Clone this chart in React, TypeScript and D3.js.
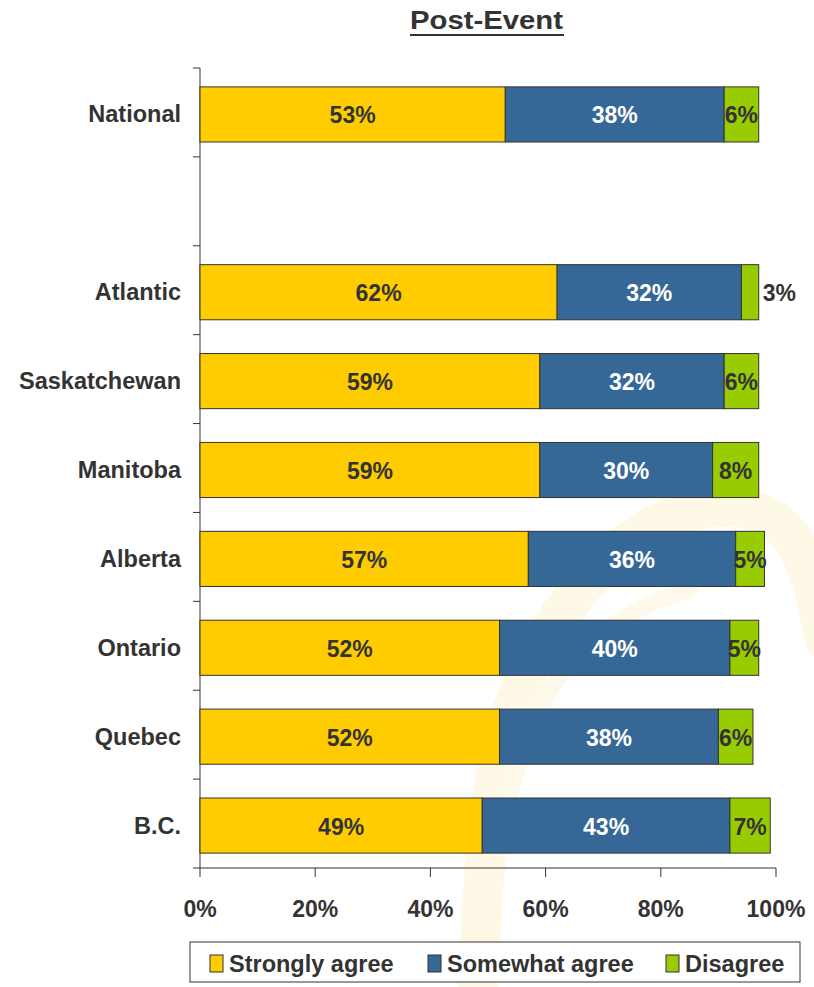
import React from "react";
import * as d3 from "d3";

const categories = ["National", "", "Atlantic", "Saskatchewan", "Manitoba", "Alberta", "Ontario", "Quebec", "B.C."];
const stronglyAgree = [53, null, 62, 59, 59, 57, 52, 52, 49];
const somewhatAgree = [38, null, 32, 32, 30, 36, 40, 38, 43];
const disagree = [6, null, 3, 6, 8, 5, 5, 6, 7];
const seriesNames = ["Strongly agree", "Somewhat agree", "Disagree"];
const seriesColors = ["#FFCC00", "#366897", "#99CC00"];
const labelColors = ["#333333", "#FFFFFF", "#333333"];
const xTicks = [0, 20, 40, 60, 80, 100];

const W = 814;
const H = 987;
const FONT = "'Liberation Sans', Arial, sans-serif";

export default function App() {
  const x = d3.scaleLinear().domain([0, 100]).range([200, 776]);
  const y = d3.scaleBand<string>().domain(categories.map((c, i) => String(i))).range([70, 870]).paddingInner(0.38).paddingOuter(0.19);
  const series = [stronglyAgree, somewhatAgree, disagree];

  const rows = categories.map((c, i) => {
    let acc = 0;
    const segs: any[] = [];
    if (stronglyAgree[i] == null) return { c, i, segs };
    series.forEach((s, k) => {
      const v = s[i] as number;
      segs.push({ k, v, x0: acc, x1: acc + v });
      acc += v;
    });
    return { c, i, segs };
  });

  const yTickPositions = d3.range(categories.length + 1).map((j) => 68 + j * (800 / categories.length));

  const swirl = d3.line().curve(d3.curveBasis);
  const outerPts: [number, number][] = [[478, 1000], [485, 820], [510, 700], [570, 590], [660, 512], [750, 500], [805, 540], [825, 640]];
  const innerPts: [number, number][] = [[500, 830], [530, 720], [575, 650], [640, 605], [690, 590]];

  return (
    <svg width={W} height={H} style={{ position: "absolute", left: 0, top: 0, background: "#fff" }} fontFamily={FONT}>
      {/* faint watermark */}
      <path d={swirl(outerPts) || ""} fill="none" stroke="#FEF8E6" strokeWidth={40} strokeLinecap="round" />
      <path d={swirl(innerPts) || ""} fill="none" stroke="#FEF9EA" strokeWidth={16} strokeLinecap="round" />

      {/* title */}
      <text x={410} y={29} fontSize={26} fontWeight="bold" fill="#333" textLength={153} lengthAdjust="spacingAndGlyphs">Post-Event</text>
      <line x1={410} x2={564} y1={35} y2={35} stroke="#333" strokeWidth={2} />

      {/* y axis */}
      <line x1={200} x2={200} y1={68} y2={868} stroke="#333" strokeWidth={1} />
      {yTickPositions.map((t, j) => (
        <line key={j} x1={193} x2={200} y1={t} y2={t} stroke="#333" strokeWidth={1} />
      ))}

      {/* x axis */}
      <line x1={200} x2={x(100)} y1={868} y2={868} stroke="#333" strokeWidth={1} />
      {xTicks.map((t) => (
        <g key={t}>
          <line x1={x(t)} x2={x(t)} y1={868} y2={877} stroke="#333" strokeWidth={1} />
          <text x={x(t)} y={917} textAnchor="middle" fontSize={23} fontWeight="bold" fill="#333">{t}%</text>
        </g>
      ))}

      {/* bars */}
      {rows.map((r) => {
        const y0 = y(String(r.i)) as number;
        const bh = y.bandwidth();
        return (
          <g key={r.i}>
            <text x={181} y={y0 + bh / 2 + 8} textAnchor="end" fontSize={23.5} fontWeight="bold" fill="#333">{r.c}</text>
            {r.segs.map((s: any) => (
              <rect key={s.k} x={x(s.x0)} y={y0} width={x(s.x1) - x(s.x0)} height={bh} fill={seriesColors[s.k]} stroke="#333" strokeWidth={1} />
            ))}
            {r.segs.map((s: any) => {
              const outside = s.v < 4;
              const cx = outside ? x(s.x1) + 4 : (x(s.x0) + x(s.x1)) / 2;
              return (
                <text key={"l" + s.k} x={cx} y={y0 + bh / 2 + 9} textAnchor={outside ? "start" : "middle"} fontSize={23} fontWeight="bold" fill={outside ? "#333" : labelColors[s.k]}>
                  {s.v}%
                </text>
              );
            })}
          </g>
        );
      })}

      {/* legend */}
      <rect x={190} y={942} width={610} height={40} fill="#fff" stroke="#333" strokeWidth={1} />
      {seriesNames.map((n, k) => {
        const lx = [210, 428, 666][k];
        return (
          <g key={n}>
            <rect x={lx} y={955} width={13} height={17} fill={seriesColors[k]} stroke="#333" strokeWidth={1} />
            <text x={lx + 19} y={972} fontSize={23.5} fontWeight="bold" fill="#333">{n}</text>
          </g>
        );
      })}
    </svg>
  );
}
